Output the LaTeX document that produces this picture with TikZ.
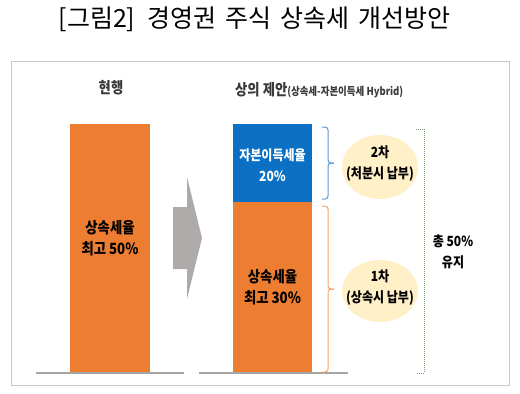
\documentclass[tikz,border=0pt]{standalone}
\usepackage{fontspec}
\setmainfont{Noto Sans CJK KR}
\newfontfamily\krc[FakeStretch=0.86]{Noto Sans CJK KR}
\definecolor{barorange}{HTML}{ED7D31}
\definecolor{barblue}{HTML}{0B6FC4}
\definecolor{braceblue}{HTML}{5B9BD5}
\definecolor{braceorange}{HTML}{F7A467}
\definecolor{ellfill}{HTML}{FFF0C8}
\definecolor{arrowgray}{HTML}{ADAAA9}
\definecolor{framegray}{HTML}{C8C8C8}
\definecolor{basegray}{HTML}{A6A6A6}
\definecolor{dotgreen}{HTML}{7F9A72}
\definecolor{headgray}{HTML}{3A3A3A}
\begin{document}
\begin{tikzpicture}[x=1pt,y=-1pt,
  bartext/.style={font=\krc\fontsize{15.5}{21}\selectfont\bfseries,align=center,inner sep=0pt},
  elltext/.style={font=\krc\fontsize{14}{21}\selectfont\bfseries,align=center,inner sep=0pt},
  ell/.style={fill=ellfill,draw=none},
  brace/.style={line width=1pt,rounded corners=3pt},
]
\useasboundingbox (0,0) rectangle (520,394);
\fill[white] (0,0) rectangle (520,394);
% title
\node[font=\fontsize{25}{27}\selectfont,inner sep=0pt] (title) at (254.5,19) {[그림2]\hspace{12pt}경영권\hspace{9pt}주식\hspace{9pt}상속세\hspace{9pt}개선방안};
% frame
\draw[framegray,line width=1pt] (11,61) rectangle (509,385);
% headers
\node[font=\krc\fontsize{15.5}{17}\selectfont\bfseries,text=headgray,inner sep=0pt] (h1) at (111,88) {현행};
\node[anchor=west,text=headgray,inner sep=0pt] (h2) at (235,90) {{\krc\fontsize{15.5}{17}\selectfont\bfseries 상의 제안}{\krc\fontsize{11}{12}\selectfont\bfseries(상속세-자본이득세 Hybrid)}};
% bars
\fill[barorange] (70,124) rectangle (150,373);
\node[bartext] (t1) at (110,238) {상속세율\\최고 50\%};
\fill[barblue] (233,124) rectangle (312,202);
\node[bartext,font=\krc\fontsize{14}{21}\selectfont\bfseries,text=white] (t2) at (272.5,165) {자본이득세율\\20\%};
\fill[barorange] (233,202) rectangle (312,373);
\node[bartext] (t3) at (272.5,287) {상속세율\\최고 30\%};
% baselines
\draw[basegray,line width=1.2pt] (36,373) -- (184,373);
\draw[basegray,line width=1.2pt] (199,373) -- (348,373);
% arrow
\fill[arrowgray] (173,207) -- (187,207) -- (187,177) -- (202,238) -- (187,299) -- (187,269) -- (173,269) -- cycle;
% braces
\draw[braceblue,brace] (322,127) -- (328,127) -- (328,163) -- (334,163);
\draw[braceblue,brace] (334,163) -- (328,163) -- (328,199) -- (322,199);
\draw[braceorange,brace] (322,206) -- (328,206) -- (328,289) -- (334,289);
\draw[braceorange,brace] (334,289) -- (328,289) -- (328,372) -- (322,372);
% ellipses
\fill[ell] (380,167) ellipse [x radius=38, y radius=32];
\node[elltext] (e1) at (380,164) {2차\\(처분시 납부)};
\fill[ell] (380,291) ellipse [x radius=38, y radius=31];
\node[elltext] (e2) at (380,288) {1차\\(상속시 납부)};
% dotted bracket
\draw[dotgreen,line width=1pt,dash pattern=on 1pt off 1pt] (416,129) -- (424,129) -- (424,373) -- (417,373);
\node[elltext] (tot) at (453,252) {총 50\%\\유지};
\end{tikzpicture}
\end{document}
